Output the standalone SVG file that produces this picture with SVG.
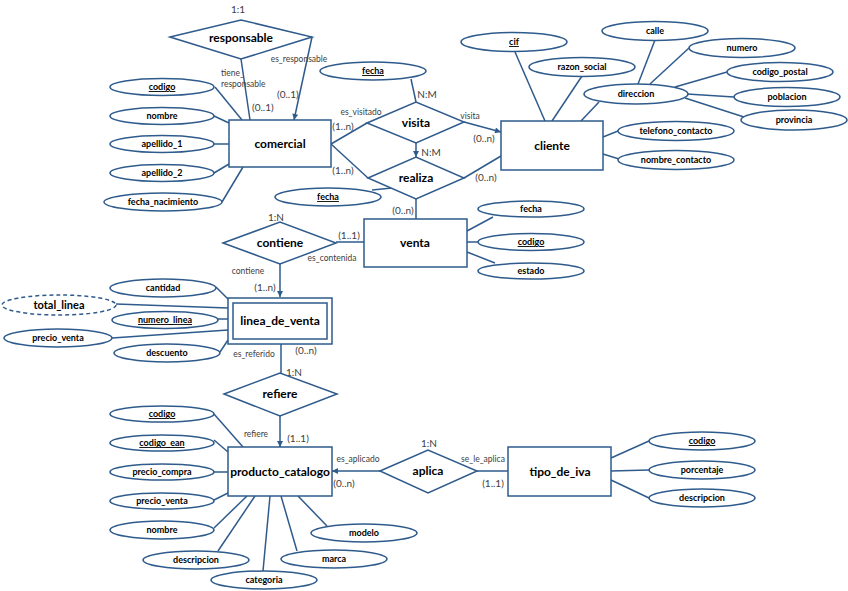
<svg xmlns="http://www.w3.org/2000/svg" width="848" height="591" viewBox="0 0 848 591">
<style>
.sh{fill:#fff;stroke:#2F5B8C;stroke-width:1.5}
.dash{stroke-dasharray:4 3}
.ln{stroke:#2F5B8C;stroke-width:1.5;fill:none}
.et{font-family:Lato,"Liberation Sans",sans-serif;font-weight:bold;font-size:12px;fill:#000;text-anchor:middle}
.at{font-family:Lato,"Liberation Sans",sans-serif;font-weight:bold;font-size:9px;fill:#000;text-anchor:middle}
.u{text-decoration:underline}
.cd{font-family:Lato,"Liberation Sans",sans-serif;font-size:10px;fill:#404040;text-anchor:middle}
.rl{font-family:Lato,"Liberation Sans",sans-serif;font-size:8.5px;fill:#404040;text-anchor:middle}
</style>
<defs>
<marker id="ar" viewBox="0 0 10 10" refX="10" refY="5" markerWidth="7" markerHeight="6" markerUnits="userSpaceOnUse" orient="auto">
<path d="M0,0 L10,5 L0,10 z" fill="#2F5B8C"/>
</marker>
</defs>
<rect width="848" height="591" fill="#fff"/>
<g id="connectors">
<line class="ln" x1="241" y1="59" x2="250" y2="120"/>
<line class="ln" x1="312" y1="37" x2="294" y2="120" marker-end="url(#ar)"/>
<line class="ln" x1="215" y1="87" x2="242" y2="120"/>
<line class="ln" x1="214" y1="116" x2="229" y2="123"/>
<line class="ln" x1="214" y1="144" x2="229" y2="144"/>
<line class="ln" x1="214" y1="173" x2="229" y2="164"/>
<line class="ln" x1="222" y1="202" x2="243" y2="167"/>
<line class="ln" x1="331" y1="144" x2="367" y2="123"/>
<line class="ln" x1="331" y1="144" x2="368" y2="178"/>
<line class="ln" x1="411" y1="79" x2="416" y2="102"/>
<line class="ln" x1="464" y1="122" x2="501" y2="132" marker-end="url(#ar)"/>
<line class="ln" x1="416" y1="143" x2="416" y2="157" marker-end="url(#ar)"/>
<line class="ln" x1="464" y1="178" x2="501" y2="156"/>
<line class="ln" x1="416" y1="199" x2="416" y2="219"/>
<line class="ln" x1="372" y1="190" x2="392" y2="188"/>
<line class="ln" x1="515" y1="52" x2="545" y2="121"/>
<line class="ln" x1="582" y1="76" x2="552" y2="121"/>
<line class="ln" x1="599" y1="102" x2="581" y2="121"/>
<line class="ln" x1="655" y1="40" x2="638" y2="84"/>
<line class="ln" x1="689" y1="48" x2="650" y2="84"/>
<line class="ln" x1="727" y1="72" x2="675" y2="87"/>
<line class="ln" x1="734" y1="97" x2="687" y2="94"/>
<line class="ln" x1="744" y1="117" x2="685" y2="98"/>
<line class="ln" x1="618" y1="131" x2="603" y2="137"/>
<line class="ln" x1="619" y1="159" x2="603" y2="154"/>
<line class="ln" x1="493" y1="217" x2="467" y2="231"/>
<line class="ln" x1="478" y1="242" x2="467" y2="242"/>
<line class="ln" x1="495" y1="263" x2="467" y2="252"/>
<line class="ln" x1="280" y1="264" x2="280" y2="297" marker-end="url(#ar)"/>
<line class="ln" x1="336" y1="242" x2="364" y2="242"/>
<line class="ln" x1="216" y1="287" x2="228" y2="299"/>
<line class="ln" x1="116" y1="304" x2="228" y2="308"/>
<line class="ln" x1="218" y1="319" x2="228" y2="319"/>
<line class="ln" x1="112" y1="338" x2="228" y2="330"/>
<line class="ln" x1="220" y1="352" x2="228" y2="340"/>
<line class="ln" x1="281" y1="344" x2="281" y2="373"/>
<line class="ln" x1="280" y1="416" x2="280" y2="447" marker-end="url(#ar)"/>
<line class="ln" x1="380" y1="471" x2="332" y2="471" marker-end="url(#ar)"/>
<line class="ln" x1="477" y1="471" x2="508" y2="471"/>
<line class="ln" x1="649" y1="441" x2="611" y2="458"/>
<line class="ln" x1="649" y1="470" x2="611" y2="471"/>
<line class="ln" x1="649" y1="498" x2="611" y2="480"/>
<line class="ln" x1="214" y1="414" x2="243" y2="447"/>
<line class="ln" x1="214" y1="440" x2="228" y2="452"/>
<line class="ln" x1="214" y1="472" x2="228" y2="472"/>
<line class="ln" x1="214" y1="500" x2="228" y2="493"/>
<line class="ln" x1="214" y1="528" x2="247" y2="496"/>
<line class="ln" x1="218" y1="551" x2="255" y2="496"/>
<line class="ln" x1="263" y1="571" x2="270" y2="496"/>
<line class="ln" x1="297" y1="551" x2="281" y2="496"/>
<line class="ln" x1="327" y1="526" x2="298" y2="496"/>
</g>
<g id="labels">
<text class="cd" x="238" y="13">1:1</text>
<text class="rl" x="221" y="76" text-anchor="start" style="text-anchor:start">tiene_</text>
<text class="rl" x="221" y="87" style="text-anchor:start">responsable</text>
<text class="rl" x="299" y="62">es_responsable</text>
<text class="cd" x="252" y="110.5" style="text-anchor:start">(0..1)</text>
<text class="cd" x="277" y="97.5" style="text-anchor:start">(0..1)</text>
<text class="cd" x="427" y="97.5">N:M</text>
<text class="cd" x="431" y="156">N:M</text>
<text class="rl" x="361" y="115">es_visitado</text>
<text class="cd" x="343" y="129.5">(1..n)</text>
<text class="rl" x="470" y="119">visita</text>
<text class="cd" x="484" y="141.5">(0..n)</text>
<text class="cd" x="343" y="173.5">(1..n)</text>
<text class="cd" x="486" y="180.5">(0..n)</text>
<text class="cd" x="403" y="213.5">(0..n)</text>
<text class="cd" x="276" y="220.5">1:N</text>
<text class="cd" x="349" y="238.5">(1..1)</text>
<text class="rl" x="332" y="261">es_contenida</text>
<text class="rl" x="248" y="274">contiene</text>
<text class="cd" x="265" y="290.5">(1..n)</text>
<text class="rl" x="254" y="357">es_referido</text>
<text class="cd" x="306" y="354">(0..n)</text>
<text class="cd" x="294" y="375.5">1:N</text>
<text class="rl" x="256" y="437">refiere</text>
<text class="cd" x="298" y="441.5">(1..1)</text>
<text class="rl" x="358" y="462">es_aplicado</text>
<text class="cd" x="344" y="486.5">(0..n)</text>
<text class="cd" x="429" y="446.5">1:N</text>
<text class="rl" x="483" y="462">se_le_aplica</text>
<text class="cd" x="493" y="486.5">(1..1)</text>
</g>
<g id="responsable"><polygon class="sh" points="170,37 241,20 312,37 241,59"/><text class="et" x="241" y="42">responsable</text></g>
<g id="visita"><polygon class="sh" points="367,123 416,102 464,122 416,143"/><text class="et" x="416" y="127">visita</text></g>
<g id="realiza"><polygon class="sh" points="368,178 416,157 464,178 416,199"/><text class="et" x="416" y="182">realiza</text></g>
<g id="contiene"><polygon class="sh" points="223,243 280,222 336,243 280,264"/><text class="et" x="280" y="247">contiene</text></g>
<g id="refiere"><polygon class="sh" points="224,394 280,373 337,394 280,416"/><text class="et" x="280" y="398">refiere</text></g>
<g id="aplica"><polygon class="sh" points="380,471 428,450 477,471 428,493"/><text class="et" x="428" y="475">aplica</text></g>
<g id="comercial"><rect class="sh" x="229" y="120" width="102" height="47"/><text class="et" x="280" y="148">comercial</text></g>
<g id="cliente"><rect class="sh" x="501" y="121" width="102" height="49"/><text class="et" x="552" y="150">cliente</text></g>
<g id="venta"><rect class="sh" x="364" y="219" width="103" height="48"/><text class="et" x="415" y="247">venta</text></g>
<g id="linea_de_venta"><rect class="sh" x="228" y="298" width="104" height="46"/><rect class="sh" x="233" y="303" width="94" height="36"/><text class="et" x="280" y="325">linea_de_venta</text></g>
<g id="producto_catalogo"><rect class="sh" x="228" y="447" width="104" height="49"/><text class="et" x="280" y="476">producto_catalogo</text></g>
<g id="tipo_de_iva"><rect class="sh" x="508" y="447" width="103" height="49"/><text class="et" x="560" y="476">tipo_de_iva</text></g>
<g id="com_codigo"><ellipse class="sh" cx="162" cy="87" rx="52" ry="8.5"/><text class="at u" x="162" y="90">codigo</text></g>
<g id="com_nombre"><ellipse class="sh" cx="162" cy="116" rx="52" ry="8.5"/><text class="at" x="162" y="119">nombre</text></g>
<g id="com_apellido_1"><ellipse class="sh" cx="162" cy="144" rx="52" ry="8.5"/><text class="at" x="162" y="147">apellido_1</text></g>
<g id="com_apellido_2"><ellipse class="sh" cx="162" cy="173" rx="52" ry="8.5"/><text class="at" x="162" y="176">apellido_2</text></g>
<g id="com_fecha_nacimiento"><ellipse class="sh" cx="163" cy="202" rx="59" ry="9"/><text class="at" x="163" y="205">fecha_nacimiento</text></g>
<g id="visita_fecha"><ellipse class="sh" cx="373" cy="71" rx="53" ry="9"/><text class="at u" x="373" y="74">fecha</text></g>
<g id="realiza_fecha"><ellipse class="sh" cx="328" cy="197" rx="53" ry="9"/><text class="at u" x="328" y="200">fecha</text></g>
<g id="cli_cif"><ellipse class="sh" cx="514" cy="42" rx="53" ry="9.5"/><text class="at u" x="514" y="45">cif</text></g>
<g id="cli_razon_social"><ellipse class="sh" cx="582" cy="67" rx="53" ry="9.5"/><text class="at" x="582" y="70">razon_social</text></g>
<g id="cli_calle"><ellipse class="sh" cx="655" cy="31" rx="53" ry="9.5"/><text class="at" x="655" y="34">calle</text></g>
<g id="cli_numero"><ellipse class="sh" cx="742" cy="48" rx="53" ry="9.5"/><text class="at" x="742" y="51">numero</text></g>
<g id="cli_codigo_postal"><ellipse class="sh" cx="780" cy="72" rx="53" ry="9.5"/><text class="at" x="780" y="75">codigo_postal</text></g>
<g id="cli_poblacion"><ellipse class="sh" cx="787" cy="97" rx="53" ry="9.5"/><text class="at" x="787" y="100">poblacion</text></g>
<g id="cli_provincia"><ellipse class="sh" cx="794" cy="120" rx="53" ry="10"/><text class="at" x="794" y="123">provincia</text></g>
<g id="cli_direccion"><ellipse class="sh" cx="636" cy="94" rx="52" ry="10"/><text class="at" x="636" y="97">direccion</text></g>
<g id="cli_telefono_contacto"><ellipse class="sh" cx="676" cy="131" rx="58" ry="9.5"/><text class="at" x="676" y="134">telefono_contacto</text></g>
<g id="cli_nombre_contacto"><ellipse class="sh" cx="676" cy="160" rx="58" ry="9.5"/><text class="at" x="676" y="163">nombre_contacto</text></g>
<g id="ven_fecha"><ellipse class="sh" cx="531" cy="209" rx="53" ry="8"/><text class="at" x="531" y="212">fecha</text></g>
<g id="ven_codigo"><ellipse class="sh" cx="531" cy="242" rx="53" ry="8.5"/><text class="at u" x="531" y="245">codigo</text></g>
<g id="ven_estado"><ellipse class="sh" cx="531" cy="271" rx="53" ry="8"/><text class="at" x="531" y="274">estado</text></g>
<g id="lv_cantidad"><ellipse class="sh" cx="163" cy="288" rx="53" ry="9"/><text class="at" x="163" y="291">cantidad</text></g>
<g id="lv_total_linea"><ellipse class="sh dash" cx="59" cy="305" rx="57" ry="10"/><text class="et" x="59" y="309" style="font-size:11px">total_linea</text></g>
<g id="lv_numero_linea"><ellipse class="sh" cx="165" cy="320" rx="53" ry="8.5"/><text class="at u" x="165" y="323">numero_linea</text></g>
<g id="lv_precio_venta"><ellipse class="sh" cx="58" cy="338" rx="54" ry="9"/><text class="at" x="58" y="341">precio_venta</text></g>
<g id="lv_descuento"><ellipse class="sh" cx="167" cy="353" rx="53" ry="9"/><text class="at" x="167" y="356">descuento</text></g>
<g id="pc_codigo"><ellipse class="sh" cx="162" cy="414" rx="52" ry="8"/><text class="at u" x="162" y="417">codigo</text></g>
<g id="pc_codigo_ean"><ellipse class="sh" cx="162" cy="443" rx="52" ry="8"/><text class="at u" x="162" y="446">codigo_ean</text></g>
<g id="pc_precio_compra"><ellipse class="sh" cx="162" cy="472" rx="52" ry="8"/><text class="at" x="162" y="475">precio_compra</text></g>
<g id="pc_precio_venta"><ellipse class="sh" cx="162" cy="501" rx="52" ry="8"/><text class="at" x="162" y="504">precio_venta</text></g>
<g id="pc_nombre"><ellipse class="sh" cx="162" cy="530" rx="52" ry="9"/><text class="at" x="162" y="533">nombre</text></g>
<g id="pc_descripcion"><ellipse class="sh" cx="196" cy="560" rx="53" ry="9"/><text class="at" x="196" y="563">descripcion</text></g>
<g id="pc_categoria"><ellipse class="sh" cx="264" cy="580" rx="53" ry="9"/><text class="at" x="264" y="583">categoria</text></g>
<g id="pc_marca"><ellipse class="sh" cx="334" cy="559" rx="53" ry="9"/><text class="at" x="334" y="562">marca</text></g>
<g id="pc_modelo"><ellipse class="sh" cx="364" cy="533" rx="53" ry="9"/><text class="at" x="364" y="536">modelo</text></g>
<g id="iva_codigo"><ellipse class="sh" cx="702" cy="441" rx="53" ry="9"/><text class="at u" x="702" y="444">codigo</text></g>
<g id="iva_porcentaje"><ellipse class="sh" cx="702" cy="470" rx="53" ry="9"/><text class="at" x="702" y="473">porcentaje</text></g>
<g id="iva_descripcion"><ellipse class="sh" cx="702" cy="498" rx="53" ry="9"/><text class="at" x="702" y="501">descripcion</text></g>
</svg>
